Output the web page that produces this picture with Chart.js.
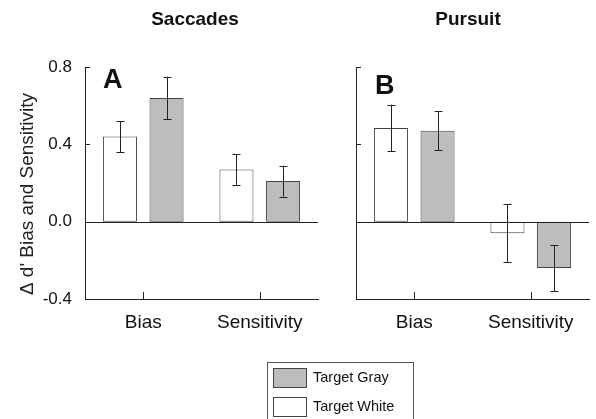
<!DOCTYPE html>
<html>
<head>
<meta charset="utf-8">
<script src="https://cdn.jsdelivr.net/npm/chart.js@4.4.1/dist/chart.umd.min.js"></script>
<style>
  body { margin: 0; background: #fff; }
  #wrap { position: relative; width: 596px; height: 419px; overflow: hidden; font-family: "Liberation Sans", Arial, sans-serif; }
  canvas { position: absolute; left: 0; top: 0; }
  #legend { position: absolute; left: 267px; top: 362px; width: 145px; height: 70px; border: 1px solid #555; }
  .row { position: absolute; left: 5px; height: 19px; font-size: 14.5px; color: #111; }
  .sw { position: absolute; left: 0; top: 0; width: 32px; height: 18px; border: 1px solid #444; }
  .lbl { position: absolute; left: 40px; top: 1px; white-space: nowrap; }
</style>
</head>
<body>
<div id="wrap">
  <canvas id="chartA" width="596" height="419"></canvas>
  <canvas id="chartB" width="596" height="419"></canvas>
  <div id="legend">
    <div class="row" style="top:5px"><div class="sw" style="background:#bdbdbd"></div><span class="lbl">Target Gray</span></div>
    <div class="row" style="top:34px"><div class="sw" style="background:#fff"></div><span class="lbl">Target White</span></div>
  </div>
</div>
<script>
const categories = ['Bias', 'Sensitivity'];
const seriesNames = ['Target White', 'Target Gray'];
const yTicks = [-0.4, 0.0, 0.4, 0.8];

// Saccades (panel A)
const saccWhite = [0.44, 0.27];
const saccGray = [0.64, 0.21];
const saccWhiteErr = [0.08, 0.08];
const saccGrayErr = [0.11, 0.08];

// Pursuit (panel B)
const pursWhite = [0.485, -0.06];
const pursGray = [0.47, -0.24];
const pursWhiteErr = [0.12, 0.15];
const pursGrayErr = [0.10, 0.12];

const FONT = '"Liberation Sans", Arial, sans-serif';
const INK = '#222';

// zero line, inward ticks, error bars, titles
const extras = {
  id: 'extras',
  afterDatasetsDraw(chart, args, opts) {
    const ctx = chart.ctx;
    const a = chart.chartArea;
    const x = chart.scales.x, y = chart.scales.y;
    ctx.save();
    ctx.strokeStyle = INK;
    ctx.lineWidth = 1;
    // zero line
    const y0 = Math.round(y.getPixelForValue(0)) + 0.5;
    ctx.beginPath();
    ctx.moveTo(a.left, y0);
    ctx.lineTo(a.right, y0);
    ctx.stroke();
    // inward y ticks
    yTicks.forEach(v => {
      const py = Math.round(y.getPixelForValue(v)) + 0.5;
      ctx.beginPath();
      ctx.moveTo(a.left, py);
      ctx.lineTo(a.left + 5, py);
      ctx.stroke();
    });
    // inward x ticks
    categories.forEach((c, i) => {
      const px = Math.round(x.getPixelForValue(i)) + 0.5;
      ctx.beginPath();
      ctx.moveTo(px, a.bottom);
      ctx.lineTo(px, a.bottom - 7);
      ctx.stroke();
    });
    // error bars
    opts.errors.forEach((errs, di) => {
      const meta = chart.getDatasetMeta(di);
      const vals = chart.data.datasets[di].data;
      meta.data.forEach((bar, j) => {
        const bx = Math.round(bar.x) + 0.5;
        const hi = y.getPixelForValue(vals[j] + errs[j]);
        const lo = y.getPixelForValue(vals[j] - errs[j]);
        ctx.beginPath();
        ctx.moveTo(bx, hi); ctx.lineTo(bx, lo);
        ctx.moveTo(bx - 4, Math.round(hi) + 0.5); ctx.lineTo(bx + 4, Math.round(hi) + 0.5);
        ctx.moveTo(bx - 4, Math.round(lo) + 0.5); ctx.lineTo(bx + 4, Math.round(lo) + 0.5);
        ctx.stroke();
      });
    });
    // panel title and letter
    ctx.fillStyle = '#111';
    ctx.textAlign = 'center';
    ctx.textBaseline = 'alphabetic';
    ctx.font = 'bold 19px ' + FONT;
    ctx.fillText(opts.title, opts.titleX, 25);
    ctx.textAlign = 'left';
    ctx.font = 'bold 27px ' + FONT;
    ctx.fillText(opts.letter, opts.letterX, opts.letterY);
    // y axis title
    if (opts.yTitle) {
      ctx.save();
      ctx.translate(33, 194);
      ctx.rotate(-Math.PI / 2);
      ctx.textAlign = 'center';
      ctx.font = '19px ' + FONT;
      ctx.fillStyle = '#222';
      ctx.fillText(opts.yTitle, 0, 0);
      ctx.restore();
    }
    ctx.restore();
  }
};

function makePanel(id, white, gray, left, right, showLabels, panel) {
  return new Chart(document.getElementById(id), {
    type: 'bar',
    data: {
      labels: categories,
      datasets: [
        { label: seriesNames[0], data: white, backgroundColor: '#ffffff', borderColor: '#444', borderWidth: 1, borderSkipped: false },
        { label: seriesNames[1], data: gray, backgroundColor: '#bdbdbd', borderColor: '#444', borderWidth: 1, borderSkipped: false }
      ]
    },
    options: {
      responsive: false,
      animation: false,
      devicePixelRatio: 1,
      datasets: { bar: { barPercentage: 0.73, categoryPercentage: 0.8 } },
      layout: { padding: { left: 0, right: 596 - right, top: 67, bottom: 0 } },
      scales: {
        x: {
          grid: { display: false, drawTicks: false },
          border: { display: true, color: INK, width: 1 },
          ticks: { color: '#111', font: { family: FONT, size: 19 }, padding: 12 },
          afterFit(s) { s.height = 419 - 299; }
        },
        y: {
          min: -0.4,
          max: 0.8,
          afterBuildTicks(s) { s.ticks = yTicks.map(v => ({ value: v })); },
          grid: { display: false, drawTicks: false },
          border: { display: true, color: INK, width: 1 },
          ticks: {
            display: showLabels,
            color: '#111',
            font: { family: FONT, size: 17 },
            padding: 13,
            callback: v => v.toFixed(1)
          },
          afterFit(s) { s.width = left; }
        }
      },
      plugins: {
        legend: { display: false },
        tooltip: { enabled: false },
        extras: panel
      }
    },
    plugins: [extras]
  });
}

makePanel('chartA', saccWhite, saccGray, 85, 318, true,
  { errors: [saccWhiteErr, saccGrayErr], title: 'Saccades', titleX: 195, letter: 'A', letterX: 103, letterY: 88, yTitle: "\u0394 d' Bias and Sensitivity" });
makePanel('chartB', pursWhite, pursGray, 356, 589, false,
  { errors: [pursWhiteErr, pursGrayErr], title: 'Pursuit', titleX: 468, letter: 'B', letterX: 375, letterY: 94 });
</script>
</body>
</html>
